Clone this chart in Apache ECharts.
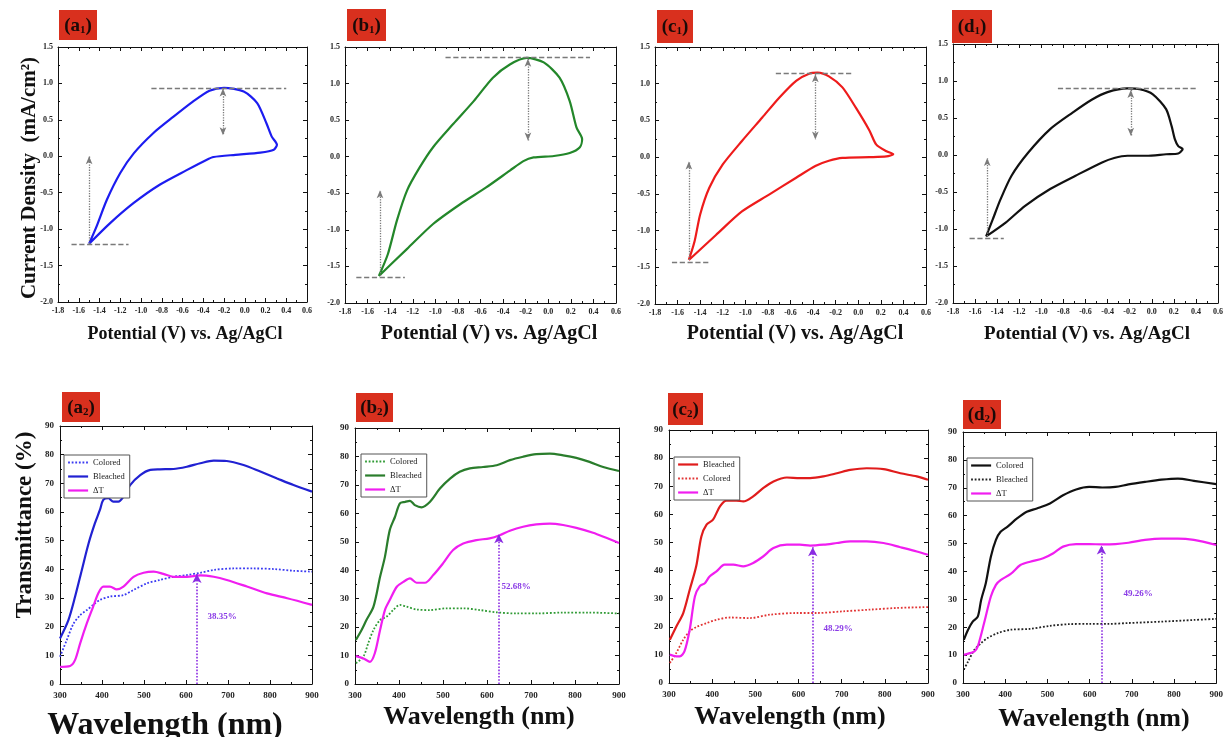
<!DOCTYPE html>
<html><head><meta charset="utf-8">
<script src="https://cdn.jsdelivr.net/npm/echarts@6/dist/echarts.min.js"></script>
<style>html,body{margin:0;padding:0;background:#fff}#c{width:1226px;height:737px}</style>
</head><body><div id="c"></div>
<script>
// ---------- CV loops: [potential V, current density mA/cm2] ----------
const cvA = [[-1.50,-1.20],[-1.43,-0.97],[-1.33,-0.60],[-1.20,-0.23],[-1.07,0.04],[-0.88,0.32],[-0.69,0.54],[-0.50,0.75],[-0.34,0.90],[-0.20,0.94],[-0.01,0.89],[0.12,0.73],[0.21,0.45],[0.26,0.27],[0.31,0.16],[0.28,0.09],[0.15,0.05],[-0.09,0.02],[-0.30,-0.01],[-0.37,-0.05],[-0.56,-0.19],[-0.82,-0.39],[-1.07,-0.64],[-1.30,-0.92],[-1.50,-1.20]];
const cvB = [[-1.50,-1.63],[-1.42,-1.33],[-1.34,-0.87],[-1.25,-0.46],[-1.14,-0.15],[-1.02,0.13],[-0.84,0.45],[-0.66,0.76],[-0.49,1.08],[-0.34,1.26],[-0.19,1.35],[-0.04,1.29],[0.10,1.08],[0.19,0.76],[0.25,0.40],[0.30,0.24],[0.28,0.13],[0.19,0.05],[0.05,0.01],[-0.13,-0.01],[-0.22,-0.06],[-0.34,-0.19],[-0.55,-0.42],[-0.78,-0.65],[-1.02,-0.92],[-1.25,-1.26],[-1.50,-1.63]];
const cvC = [[-1.50,-1.40],[-1.45,-1.15],[-1.40,-0.78],[-1.32,-0.42],[-1.20,-0.10],[-1.03,0.22],[-0.85,0.54],[-0.70,0.81],[-0.55,1.04],[-0.43,1.14],[-0.36,1.15],[-0.26,1.10],[-0.14,0.95],[-0.02,0.67],[0.10,0.36],[0.16,0.17],[0.25,0.08],[0.31,0.04],[0.25,0.01],[0.10,0.00],[-0.14,-0.01],[-0.26,-0.05],[-0.38,-0.12],[-0.55,-0.28],[-0.79,-0.51],[-1.03,-0.74],[-1.26,-1.06],[-1.50,-1.40]];
const cvD = [[-1.50,-1.10],[-1.44,-0.87],[-1.37,-0.60],[-1.27,-0.28],[-1.12,0.03],[-0.92,0.35],[-0.72,0.57],[-0.54,0.75],[-0.40,0.85],[-0.22,0.90],[-0.11,0.89],[0.01,0.82],[0.13,0.62],[0.18,0.39],[0.21,0.21],[0.24,0.12],[0.28,0.08],[0.24,0.02],[0.13,0.01],[-0.05,-0.01],[-0.22,-0.01],[-0.34,-0.04],[-0.45,-0.10],[-0.69,-0.28],[-0.92,-0.46],[-1.15,-0.69],[-1.32,-0.91],[-1.50,-1.10]];

// guides: peak [x1,x2,y], vertex [x1,x2,y], vertexArrow [x,y1,y2], peakArrow [x,y1,y2]
const guideA = {peak:[-0.90,0.40,0.94], vertex:[-1.67,-1.12,-1.21], vArrow:[-1.50,-1.20,0.00], pArrow:[-0.21,0.93,0.29]};
const guideB = {peak:[-0.91,0.37,1.36], vertex:[-1.70,-1.27,-1.645], vArrow:[-1.49,-1.63,-0.46], pArrow:[-0.18,1.34,0.22]};
const guideC = {peak:[-0.73,-0.04,1.14], vertex:[-1.65,-1.31,-1.43], vArrow:[-1.50,-1.40,-0.06], pArrow:[-0.38,1.13,0.24]};
const guideD = {peak:[-0.85,0.41,0.90], vertex:[-1.65,-1.34,-1.12], vArrow:[-1.49,-1.10,-0.04], pArrow:[-0.19,0.88,0.26]};

// ---------- Transmittance: [wavelength nm, T %] ----------
const a2Colored = [[300,9.5],[316,15.3],[332,21],[348,24],[364,25.8],[379,27.6],[395,29.3],[419,30.5],[451,31],[475,32.8],[507,35.1],[538,36.3],[570,37.4],[602,38],[634,38.8],[666,39.8],[713,40.3],[761,40.3],[809,40.1],[856,39.5],[900,39.2]];
const a2Bleached = [[300,15.9],[320,22.3],[336,30.5],[352,39.8],[368,49],[383,56],[395,60.7],[403,64.2],[415,64.8],[427,63.6],[439,63.6],[451,65.3],[467,69.4],[491,72.9],[515,74.7],[538,74.9],[570,75],[602,75.8],[634,77],[666,77.9],[697,77.8],[737,76.4],[777,74.1],[817,71.7],[856,69.4],[900,67.1]];
const a2Delta = [[300,6],[324,6.3],[336,8.4],[348,14.2],[364,21.2],[379,27],[391,31.6],[403,34],[419,34],[435,33],[451,34],[475,37.4],[499,38.8],[523,39.2],[546,38.4],[570,37.4],[602,37.4],[634,37.9],[666,37.4],[697,36.3],[745,34],[793,31.6],[841,29.9],[900,27.6]];

const b2Colored = [[302,7.3],[319,9.6],[330,14.3],[342,19],[357,22.5],[372,23.7],[387,26],[402,27.8],[417,27.2],[440,26.2],[470,26],[508,26.6],[546,26.6],[584,26],[622,25.2],[667,24.8],[712,24.8],[773,25.1],[833,25.1],[900,24.8]];
const b2Bleached = [[302,15.5],[315,19],[326,22.5],[342,27.2],[357,37.7],[368,44.7],[379,54.1],[391,58.8],[402,63.5],[413,64],[425,64.4],[436,62.9],[451,62.1],[470,64],[493,68.7],[516,72.2],[538,74.6],[561,75.8],[591,76.3],[622,76.9],[652,78.7],[682,79.9],[712,80.8],[743,81],[773,80.4],[803,79.5],[833,78.1],[864,76.3],[900,74.9]];
const b2Delta = [[302,9.8],[319,9],[334,7.8],[345,10.8],[357,19],[368,26],[379,29.5],[395,34.2],[410,35.9],[425,37.1],[440,35.6],[459,35.6],[478,38.3],[500,42.4],[523,47.1],[546,49.4],[576,50.6],[606,51.2],[629,52.3],[652,53.9],[682,55.3],[712,56.1],[743,56.4],[773,55.9],[803,54.9],[841,53.2],[871,51.4],[900,49.6]];

const c2Bleached = [[302,15.4],[317,20.1],[333,24.9],[348,33.2],[363,41.5],[375,52.1],[387,56.3],[402,58.1],[418,62.8],[433,64.9],[456,64.9],[472,64.6],[495,66.4],[518,69.3],[542,71.7],[573,73.1],[603,72.9],[627,72.9],[658,73.5],[689,74.6],[720,75.8],[758,76.4],[797,76.1],[836,74.6],[874,73.5],[900,72.3]];
const c2Colored = [[302,7.1],[317,10.7],[333,15.4],[348,18.4],[363,19.9],[387,21.3],[410,22.5],[441,23.3],[487,23.1],[534,24.3],[596,24.9],[642,24.9],[704,25.5],[766,26.1],[828,26.7],[900,27]];
const c2Delta = [[302,10.1],[317,9.5],[325,9.5],[336,11.3],[348,19],[360,30.8],[371,34.4],[383,35.5],[394,37.9],[410,39.7],[429,42.1],[449,42.1],[472,41.5],[495,42.7],[518,45],[542,48],[573,49.2],[603,49.2],[627,48.9],[658,49.2],[689,49.8],[720,50.4],[758,50.4],[797,49.8],[836,48.3],[874,46.8],[900,45.6]];

const d2Colored = [[302,15.5],[312,19.1],[323,22],[335,23.8],[343,29.8],[354,35.8],[366,45.3],[378,51.3],[389,54.2],[405,56],[428,59],[451,61.4],[475,62.6],[506,64.4],[537,67.3],[568,69.4],[599,70.3],[630,70.1],[661,70.3],[692,71.2],[731,72.1],[770,72.9],[809,73.3],[847,72.5],[900,71.3]];
const d2Bleached = [[302,4.8],[312,7.7],[327,11.9],[343,14.3],[358,16.1],[382,17.9],[413,19.1],[459,19.4],[506,20.5],[552,21.1],[599,21.2],[645,21.2],[692,21.5],[770,22],[847,22.6],[900,23]];
const d2Delta = [[302,10.1],[316,10.7],[327,11.3],[335,13.1],[350,21.5],[366,31],[378,35.2],[389,36.9],[413,39.1],[436,42.3],[459,43.5],[490,44.7],[514,46.5],[537,48.9],[568,49.8],[599,49.8],[630,49.7],[661,49.8],[692,50.3],[731,51.3],[770,51.8],[809,51.8],[847,51.3],[900,49.5]];

// ΔT markers: [wavelength, value], label anchor [wavelength, T]
const dtA = {at:[626,38.35], text:'38.35%', lab:[651,23.5]};
const dtB = {at:[627,52.68], text:'52.68%', lab:[633,34.2]};
const dtC = {at:[633,48.29], text:'48.29%', lab:[658,19.5]};
const dtD = {at:[628,49.26], text:'49.26%', lab:[680,32.2]};

const cvTicksX = {min:-1.8, max:0.6, interval:0.2};
const cvTicksY = {min:-2.0, max:1.5, interval:0.5};
const tTicksX = {min:300, max:900, interval:100};
const tTicksY = {min:0, max:90, interval:10};

const SERIF = "'Liberation Serif','Times New Roman',serif";
const chart = echarts.init(document.getElementById('c'), null, {renderer:'canvas'});

const grids=[], xAxes=[], yAxes=[], series=[], legends=[], graphics=[];

function fmt1(v){ if (Math.abs(v)<1e-9) v=0; return v.toFixed(1); }
function fmt0(v){ return Math.round(v).toString(); }

function addGrid(rect, xt, yt, fx, fy, lblSize, marginX, marginY){
  const gi = grids.length;
  grids.push({left:rect[0], top:rect[1], width:rect[2], height:rect[3], show:false});
  const base = {gridIndex:gi, type:'value', scale:false,
    axisLine:{show:true, onZero:false, lineStyle:{color:'#111', width:1}},
    axisTick:{show:true, inside:true, length:4, lineStyle:{color:'#111', width:1}},
    minorTick:{show:true, splitNumber:2, length:2, lineStyle:{color:'#111'}},
    splitLine:{show:false}, minorSplitLine:{show:false}};
  const lbl = {show:true, fontSize:lblSize, fontWeight:'bold', fontFamily:SERIF, color:'#222', showMinLabel:true, showMaxLabel:true};
  const xi = xAxes.length, yi = yAxes.length;
  xAxes.push(Object.assign({}, base, xt, {position:'bottom', axisLabel:Object.assign({}, lbl, {formatter:fx, margin:marginX})}));
  xAxes.push(Object.assign({}, base, xt, {position:'top', axisLabel:{show:false}}));
  yAxes.push(Object.assign({}, base, yt, {position:'left', axisLabel:Object.assign({}, lbl, {formatter:fy, margin:marginY})}));
  yAxes.push(Object.assign({}, base, yt, {position:'right', axisLabel:{show:false}}));
  return {xi, yi};
}

function cvGuides(g){
  const dash = {type:'dashed', color:'#7a7a7a', width:1.3};
  const dot = {type:'dotted', color:'#7a7a7a', width:1.3};
  return {silent:true, animation:false, symbolSize:[5,8], label:{show:false}, emphasis:{disabled:true},
    data:[
      [{coord:[g.peak[0],g.peak[2]], symbol:'none', lineStyle:dash},{coord:[g.peak[1],g.peak[2]], symbol:'none', lineStyle:dash}],
      [{coord:[g.vertex[0],g.vertex[2]], symbol:'none', lineStyle:dash},{coord:[g.vertex[1],g.vertex[2]], symbol:'none', lineStyle:dash}],
      [{coord:[g.vArrow[0],g.vArrow[1]], symbol:'none', lineStyle:dot},{coord:[g.vArrow[0],g.vArrow[2]], symbol:'arrow', lineStyle:dot}],
      [{coord:[g.pArrow[0],g.pArrow[1]], symbol:'arrow', lineStyle:dot},{coord:[g.pArrow[0],g.pArrow[2]], symbol:'arrow', lineStyle:dot}]
    ]};
}

const cvPanels = [
  {name:'a1', data:cvA, guide:guideA, color:'#1c1cf0', rect:[58,47,249,255]},
  {name:'b1', data:cvB, guide:guideB, color:'#23872a', rect:[345,47,271,256]},
  {name:'c1', data:cvC, guide:guideC, color:'#ee1b1b', rect:[655,47,271,257]},
  {name:'d1', data:cvD, guide:guideD, color:'#111111', rect:[953,44,276,259]}
];
cvPanels.forEach(p=>{
  const ax = addGrid(p.rect, cvTicksX, cvTicksY, fmt1, fmt1, 8, 5, 5);
  series.push({type:'line', name:p.name, xAxisIndex:ax.xi, yAxisIndex:ax.yi, data:p.data, symbol:'none', smooth:0.25,
    lineStyle:{color:p.color, width:2.2}, markLine:cvGuides(p.guide), z:3});
});

const MAG = '#f01ef0', PUR = '#8a2be2';
const tPanels = [
  {id:'a2', rect:[60,426,252,258], dt:dtA, legend:[64,455], lines:[
    {n:'Colored', d:a2Colored, c:'#3a3af2', t:'dotted', w:1.8},
    {n:'Bleached', d:a2Bleached, c:'#2121d2', t:'solid', w:2.2},
    {n:'ΔT', d:a2Delta, c:MAG, t:'solid', w:2.2}]},
  {id:'b2', rect:[355,428,264,256], dt:dtB, legend:[361,454], lines:[
    {n:'Colored', d:b2Colored, c:'#2f9a34', t:'dotted', w:1.8},
    {n:'Bleached', d:b2Bleached, c:'#2a7d2c', t:'solid', w:2.2},
    {n:'ΔT', d:b2Delta, c:MAG, t:'solid', w:2.2}]},
  {id:'c2', rect:[669,430,259,253], dt:dtC, legend:[674,457], lines:[
    {n:'Bleached', d:c2Bleached, c:'#e01c1c', t:'solid', w:2.2},
    {n:'Colored', d:c2Colored, c:'#e23434', t:'dotted', w:1.8},
    {n:'ΔT', d:c2Delta, c:MAG, t:'solid', w:2.2}]},
  {id:'d2', rect:[963,432,256,251], dt:dtD, legend:[967,458], lines:[
    {n:'Colored', d:d2Colored, c:'#111111', t:'solid', w:2.2},
    {n:'Bleached', d:d2Bleached, c:'#222222', t:'dotted', w:1.8},
    {n:'ΔT', d:d2Delta, c:MAG, t:'solid', w:2.2}]}
];
tPanels.forEach(p=>{
  const ax = addGrid(p.rect, tTicksX, tTicksY, fmt0, fmt0, 9, 7, 6);
  const names = [];
  p.lines.forEach(l=>{
    const nm = p.id+'|'+l.n; names.push(nm);
    const s = {type:'line', name:nm, xAxisIndex:ax.xi, yAxisIndex:ax.yi, data:l.d, symbol:'none', smooth:0.3,
      itemStyle:{color:l.c}, lineStyle:{color:l.c, width:l.w, type:l.t}, z:3};
    if (l.n==='ΔT'){
      s.markLine = {silent:true, animation:false, symbolSize:[7,9], label:{show:false}, emphasis:{disabled:true},
        data:[[{coord:[p.dt.at[0],0], symbol:'none', lineStyle:{type:'dotted', color:PUR, width:1.6}},
               {coord:[p.dt.at[0],p.dt.at[1]], symbol:'arrow', lineStyle:{type:'dotted', color:PUR, width:1.6}}]]};
      s.markPoint = {silent:true, animation:false, symbol:'circle', symbolSize:0,
        data:[{coord:p.dt.lab, label:{show:true, position:'right', distance:0, formatter:p.dt.text,
          fontSize:9, fontWeight:'bold', fontFamily:SERIF, color:'#8a3be6'}}]};
    }
    series.push(s);
  });
  legends.push({left:p.legend[0], top:p.legend[1], orient:'vertical', data:names, selectedMode:false,
    formatter:n=>n.split('|')[1], itemWidth:20, itemHeight:6, itemGap:5, padding:[3,5,3,3],
    borderColor:'#555', borderWidth:1, backgroundColor:'#fff',
    itemStyle:{opacity:0}, lineStyle:{width:'inherit'},
    textStyle:{fontSize:8.5, fontFamily:SERIF, color:'#222'}});
});

// panel tags
const tags = [['a','1',59,10,38,30],['b','1',347,9,39,32],['c','1',657,10,36,33],['d','1',952,10,40,33],
              ['a','2',62,392,38,30],['b','2',356,393,37,29],['c','2',668,393,35,32],['d','2',963,400,38,29]];
tags.forEach(t=>{
  graphics.push({type:'rect', shape:{x:t[2], y:t[3], width:t[4], height:t[5]}, style:{fill:'#d9301e'}, z:10});
  graphics.push({type:'text', x:t[2]+t[4]/2, y:t[3]+t[5]/2+1, z:11, style:{
    text:'{m|(}{m|'+t[0]+'}{s|'+t[1]+'}{m|)}', align:'center', verticalAlign:'middle',
    rich:{m:{fontSize:19, fontWeight:'bold', fontFamily:SERIF, fill:'#1a0a08', verticalAlign:'middle'},
          s:{fontSize:11, fontWeight:'bold', fontFamily:SERIF, fill:'#1a0a08', verticalAlign:'bottom', padding:[6,0,0,0]}}}});
});

function txt(s, x, y, size, rot){
  graphics.push({type:'text', x:x, y:y, rotation:rot||0, z:11, style:{text:s, fontSize:size, fontWeight:'bold',
    fontFamily:SERIF, fill:'#111', align:'center', verticalAlign:'middle'}});
}
txt('Current Density  (mA/cm²)', 30, 178, 21, Math.PI/2);
txt('Transmittance (%)', 25, 525, 23, Math.PI/2);
txt('Potential (V) vs. Ag/AgCl', 185, 334, 18);
txt('Potential (V) vs. Ag/AgCl', 489, 334, 20);
txt('Potential (V) vs. Ag/AgCl', 795, 334, 20);
txt('Potential (V) vs. Ag/AgCl', 1087, 334, 19);
txt('Wavelength (nm)', 165, 726, 32);
txt('Wavelength (nm)', 479, 717, 26);
txt('Wavelength (nm)', 790, 717, 26);
txt('Wavelength (nm)', 1094, 719, 26);

chart.setOption({
  animation:false, backgroundColor:'#fff',
  grid:grids, xAxis:xAxes, yAxis:yAxes, series:series, legend:legends, graphic:graphics
});
</script></body></html>
